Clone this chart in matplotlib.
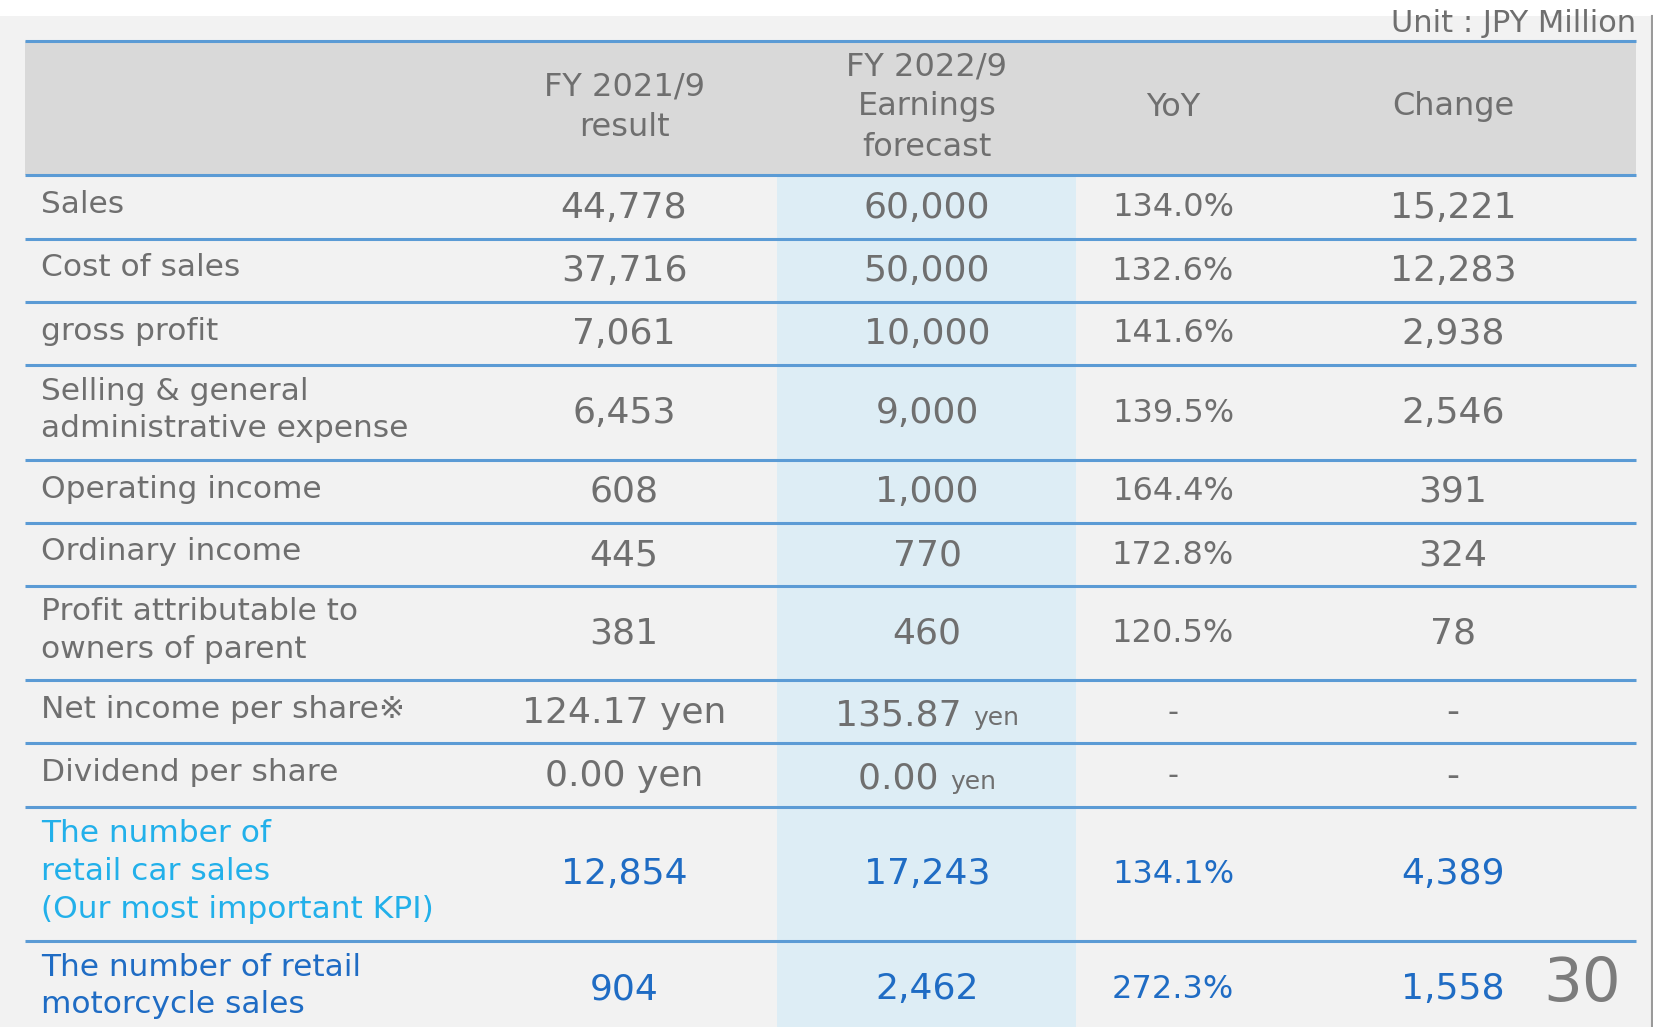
import matplotlib
matplotlib.use("Agg")
import matplotlib.pyplot as plt
from matplotlib.patches import Rectangle
import numpy as np

# ---------------- data ----------------
headers = ["", "FY 2021/9\nresult", "FY 2022/9\nEarnings\nforecast", "YoY", "Change"]
row_labels = [
    "Sales",
    "Cost of sales",
    "gross profit",
    "Selling & general\nadministrative expense",
    "Operating income",
    "Ordinary income",
    "Profit attributable to\nowners of parent",
    "Net income per share\u203b",
    "Dividend per share",
    "The number of\nretail car sales\n(Our most important KPI)",
    "The number of retail\nmotorcycle sales",
]
fy2021 = ["44,778", "37,716", "7,061", "6,453", "608", "445", "381",
          "124.17 yen", "0.00 yen", "12,854", "904"]
fy2022 = ["60,000", "50,000", "10,000", "9,000", "1,000", "770", "460",
          "135.87", "0.00", "17,243", "2,462"]
fy2022_unit = ["", "", "", "", "", "", "", "yen", "yen", "", ""]
yoy = ["134.0%", "132.6%", "141.6%", "139.5%", "164.4%", "172.8%", "120.5%",
       "-", "-", "134.1%", "272.3%"]
change = ["15,221", "12,283", "2,938", "2,546", "391", "324", "78",
          "-", "-", "4,389", "1,558"]
unit_text = "Unit : JPY Million"
page_number = "30"

# ---------------- layout / style ----------------
W, H = 1653, 1027
FONT = ["DejaVu Sans", "Noto Sans CJK JP"]
GRAY_TXT = "#6f6f6f"
LINE_BLUE = "#5b9bd5"
HL_BLUE = "#ddedf5"
HEADER_BG = "#d9d9d9"
PANEL_BG = "#f2f2f2"
CYAN_TXT = "#22b0ea"
BLUE_TXT = "#1f6cc4"
LS = 1.38

x_left, x_right = 24.5, 1636
col_centers = [None, 624, 927, 1173, 1453]
hl_x0, hl_x1 = 777, 1076
label_x = 41
header_top, header_bottom = 41, 175
row_heights = [63.5, 63, 63, 95, 63, 63, 94.5, 63, 63.5, 134, 95]

fig = plt.figure(figsize=(W / 100, H / 100), dpi=100, facecolor="white")
ax = fig.add_axes([0, 0, 1, 1])
ax.set_xlim(0, W)
ax.set_ylim(H, 0)
ax.axis("off")

# panel background
ax.add_patch(Rectangle((0, 16), 1651, H - 16, facecolor=PANEL_BG, edgecolor="none", zorder=0))
ax.plot([1652, 1652], [16, H], color="#9a9a9a", lw=1.5, zorder=1)

# header
ax.add_patch(Rectangle((x_left, header_top), x_right - x_left, header_bottom - header_top,
                       facecolor=HEADER_BG, edgecolor="none", zorder=1))
# highlighted column
ax.add_patch(Rectangle((hl_x0, header_bottom), hl_x1 - hl_x0, H - header_bottom,
                       facecolor=HL_BLUE, edgecolor="none", zorder=1))

# lines
bounds = header_bottom + np.concatenate([[0], np.cumsum(row_heights)])
for y in [header_top] + list(bounds[:-1]):
    ax.plot([x_left, x_right], [y, y], color=LINE_BLUE, lw=2.2, zorder=3,
            solid_capstyle="butt")

# header text
for c in range(1, 5):
    ax.text(col_centers[c], (header_top + header_bottom) / 2 - 1, headers[c],
            ha="center", va="center", fontsize=23, color=GRAY_TXT,
            family=FONT, linespacing=LS, zorder=4)

# unit text
ax.text(x_right, 23, unit_text, ha="right", va="center", fontsize=22,
        color=GRAY_TXT, family=FONT, zorder=4)

# rows
for i, lab in enumerate(row_labels):
    yc = (bounds[i] + bounds[i + 1]) / 2
    if i == 9:
        lab_col, val_col = CYAN_TXT, BLUE_TXT
    elif i == 10:
        lab_col, val_col = BLUE_TXT, BLUE_TXT
    else:
        lab_col, val_col = GRAY_TXT, GRAY_TXT
    ax.text(label_x, yc - 2, lab, ha="left", va="center", fontsize=22.5,
            color=lab_col, family=FONT, linespacing=LS, zorder=4)
    ax.text(col_centers[1], yc + 1, fy2021[i], ha="center", va="center",
            fontsize=26, color=val_col, family=FONT, zorder=4)
    if fy2022_unit[i]:
        t1 = ax.text(0, 0, fy2022[i] + " ", fontsize=26, family=FONT)
        t2 = ax.text(0, 0, fy2022_unit[i], fontsize=18, family=FONT)
        r = fig.canvas.get_renderer()
        w1 = t1.get_window_extent(r).width
        w2 = t2.get_window_extent(r).width
        t1.remove(); t2.remove()
        x0 = col_centers[2] - (w1 + w2) / 2
        ybase = yc + 14
        ax.text(x0, ybase, fy2022[i] + " ", ha="left", va="baseline",
                fontsize=26, color=val_col, family=FONT, zorder=4)
        ax.text(x0 + w1, ybase, fy2022_unit[i], ha="left", va="baseline",
                fontsize=18, color=val_col, family=FONT, zorder=4)
    else:
        ax.text(col_centers[2], yc + 1, fy2022[i], ha="center", va="center",
                fontsize=26, color=val_col, family=FONT, zorder=4)
    yfs = 23 if yoy[i] != "-" else 22
    ax.text(col_centers[3], yc + 1, yoy[i], ha="center", va="center",
            fontsize=yfs, color=val_col, family=FONT, zorder=4)
    ax.text(col_centers[4], yc + 1, change[i], ha="center", va="center",
            fontsize=26, color=val_col, family=FONT, zorder=4)

# page number
ax.text(1582, 985, page_number, ha="center", va="center", fontsize=44,
        color="#7c7c7c", family=FONT, zorder=4)

fig.savefig("out.png", dpi=100, facecolor=fig.get_facecolor())
